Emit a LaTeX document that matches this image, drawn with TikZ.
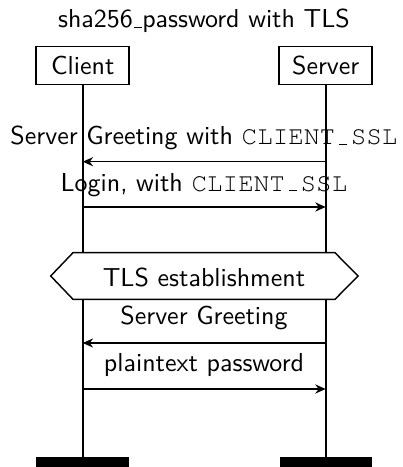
\documentclass[tikz,border=0pt]{standalone}
\usepackage{fontspec}
\setmonofont{TeX Gyre Cursor}
\usetikzlibrary{arrows.meta}
\newcommand{\shortus}{\kern.06em\rule{0.3em}{0.4pt}}
\begin{document}
\begin{tikzpicture}[x=0.385pt,y=-0.385pt,
  every node/.style={font=\sffamily},
  inst/.style={draw,line width=0.55pt,minimum width=93*0.385pt,minimum height=38*0.385pt,inner sep=0pt},
  life/.style={line width=0.8pt},
  msg/.style={line width=0.6pt,-{Stealth[length=4pt,width=3.5pt]}},
  lbl/.style={inner sep=0pt},
  endbar/.style={fill=black,draw=none}]
\useasboundingbox (0,0) rectangle (402,467);
\node[lbl] (title) at (204,21) {sha256\shortus password with TLS};
\node[inst] (client) at (82.7,65.5) {Client};
\node[inst] (server) at (325.7,65.5) {Server};
\coordinate (cb) at (82.7,460);
\coordinate (sb) at (325.7,460);
\draw[life] (client.south) -- (cb);
\draw[life] (server.south) -- (sb);
\fill[endbar] (36,457) rectangle (129,467);
\fill[endbar] (280,457) rectangle (372,467);
% message 1
\coordinate (m1s) at (325.7,161.7);
\coordinate (m1c) at (82.7,161.7);
\draw[msg] (m1s) -- (m1c);
\node[lbl] (l1) at (204,138) {Server Greeting with \texttt{CLIENT\makebox[0.6em]{\rule{0.3em}{0.4pt}}SSL}};
% message 2
\coordinate (m2c) at (82.7,207);
\coordinate (m2s) at (325.7,207);
\draw[msg] (m2c) -- (m2s);
\node[lbl] (l2) at (204,185) {Login, with \texttt{CLIENT\makebox[0.6em]{\rule{0.3em}{0.4pt}}SSL}};
% TLS
\filldraw[fill=white,line width=0.55pt] (50.7,276) -- (73,252.7) -- (335,252.7) -- (358,276) -- (335,299.3) -- (73,299.3) -- cycle;
\node[lbl] (tls) at (204,277) {TLS establishment};
% message 3
\coordinate (m3s) at (325.7,343);
\coordinate (m3c) at (82.7,343);
\draw[msg] (m3s) -- (m3c);
\node[lbl] (l3) at (204,318) {Server Greeting};
% message 4
\coordinate (m4c) at (82.7,389);
\coordinate (m4s) at (325.7,389);
\draw[msg] (m4c) -- (m4s);
\node[lbl] (l4) at (204,365) {plaintext password};
\end{tikzpicture}
\end{document}
